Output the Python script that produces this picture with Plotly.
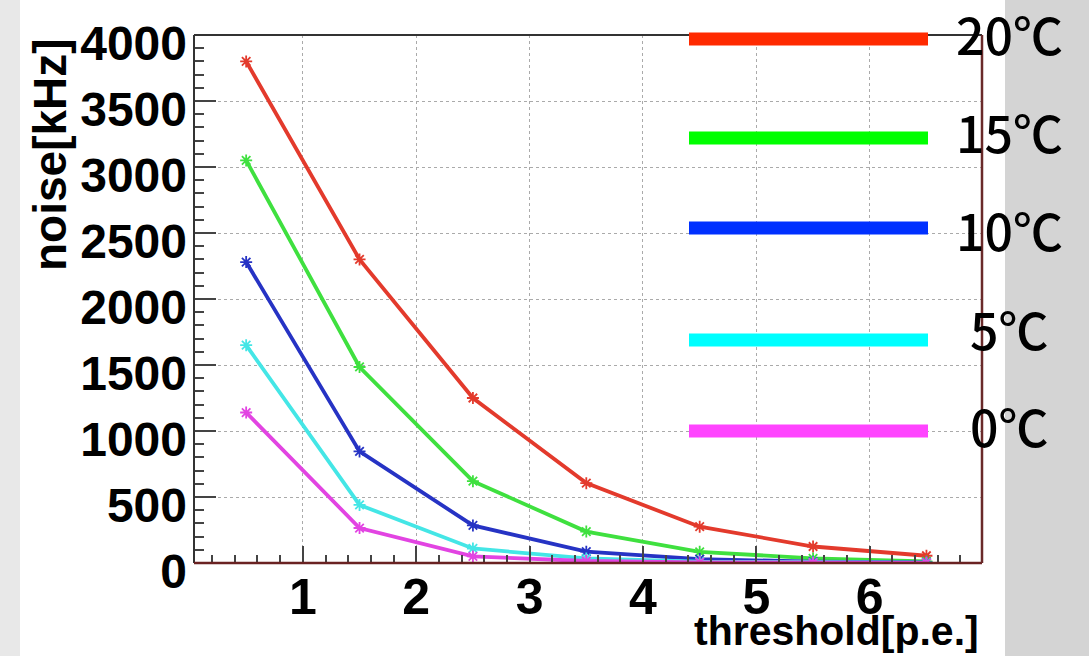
import plotly.graph_objects as go

# ---- data ----
thresholds = [0.5, 1.5, 2.5, 3.5, 4.5, 5.5, 6.5]
noise_20C = [3800, 2300, 1250, 605, 275, 125, 55]
noise_15C = [3050, 1485, 620, 238, 85, 35, 12]
noise_10C = [2280, 845, 285, 86, 30, 10, 4]
noise_5C = [1650, 440, 110, 35, 10, 4, 2]
noise_0C = [1140, 265, 50, 15, 5, 2, 1]
series_labels = ["20℃", "15℃", "10℃", "5℃", "0℃"]
x_tick_vals = [1, 2, 3, 4, 5, 6]
y_tick_vals = [0, 500, 1000, 1500, 2000, 2500, 3000, 3500, 4000]

# ---- styling ----
W, H = 1089, 656
L, R, T, B = 194, 982, 35, 563
line_colors = ["#e33a2c", "#3fe03f", "#2633c4", "#44e6e6", "#e244e2"]
legend_colors = ["#ff2a00", "#00ff00", "#0030ff", "#00ffff", "#ff44ff"]
legend_line_y = [39, 138, 228, 340, 431]
legend_text_y = [33, 131, 229, 328, 425]


def px(xp):
    return (xp - L) / (R - L)


def py(yp):
    return (B - yp) / (B - T)


fig = go.Figure()
all_series = [noise_20C, noise_15C, noise_10C, noise_5C, noise_0C]
for vals, col, name in zip(all_series, line_colors, series_labels):
    fig.add_trace(go.Scatter(
        x=thresholds, y=vals, mode="lines+markers", name=name,
        line=dict(color=col, width=3.8),
        marker=dict(symbol="asterisk-open", size=10, color=col,
                    line=dict(color=col, width=1.8)),
        showlegend=False,
    ))

shapes = []
# background strips
shapes.append(dict(type="rect", xref="paper", yref="paper", layer="below",
                   x0=px(0), x1=px(20), y0=py(H), y1=py(0),
                   fillcolor="#e8e8e8", line=dict(width=0)))
shapes.append(dict(type="rect", xref="paper", yref="paper", layer="below",
                   x0=px(1005), x1=px(W), y0=py(H), y1=py(0),
                   fillcolor="#d4d4d4", line=dict(width=0)))
# frame
shapes.append(dict(type="line", xref="paper", yref="paper", x0=0, x1=1, y0=1, y1=1,
                   line=dict(color="#333333", width=2)))
shapes.append(dict(type="line", xref="paper", yref="paper", x0=0, x1=0, y0=0, y1=1,
                   line=dict(color="#333333", width=2)))
shapes.append(dict(type="line", xref="paper", yref="paper", x0=0, x1=1, y0=0, y1=0,
                   line=dict(color="#6a2222", width=2.5)))
shapes.append(dict(type="line", xref="paper", yref="paper", x0=1, x1=1, y0=0, y1=1,
                   line=dict(color="#6a2a2a", width=2.5)))
# legend lines
for c, ly in zip(legend_colors, legend_line_y):
    shapes.append(dict(type="line", xref="paper", yref="paper",
                       x0=px(689), x1=px(928), y0=py(ly), y1=py(ly),
                       line=dict(color=c, width=13)))

annotations = []
for lab, ty in zip(series_labels, legend_text_y):
    annotations.append(dict(xref="paper", yref="paper", x=px(1009), y=py(ty),
                            text=lab, showarrow=False, xanchor="center", yanchor="middle",
                            font=dict(family="Noto Sans CJK JP", size=50, color="#000000",
                                      weight=500)))
annotations.append(dict(xref="paper", yref="paper", x=px(50), y=py(155),
                        text="noise[kHz]", showarrow=False, textangle=-90,
                        xanchor="center", yanchor="middle",
                        font=dict(family="Liberation Sans", size=46, color="#000000", weight="bold")))
annotations.append(dict(xref="paper", yref="paper", x=px(981), y=py(631),
                        text="threshold[p.e.]", showarrow=False,
                        xanchor="right", yanchor="middle",
                        font=dict(family="Liberation Sans", size=41, color="#000000", weight="bold")))

fig.update_layout(
    width=W, height=H,
    margin=dict(l=L, r=W - R, t=T, b=H - B, pad=0),
    paper_bgcolor="#ffffff", plot_bgcolor="#ffffff",
    shapes=shapes, annotations=annotations,
    xaxis=dict(range=[0.04, 6.99], tickvals=x_tick_vals, ticktext=[str(v) for v in x_tick_vals],
               automargin=False,
               ticks="inside", ticklen=17, tickwidth=1.5, tickcolor="#444444",
               showgrid=True, gridcolor="#aaaaaa", griddash="dot", gridwidth=1,
               zeroline=False, showline=False,
               tickfont=dict(family="Liberation Sans", size=50, color="#000000", weight="bold"),
               ticklabelstandoff=0,
               minor=dict(dtick=0.2, tick0=0, ticks="inside", ticklen=8, tickcolor="#444444",
                          tickwidth=1.5, showgrid=False)),
    yaxis=dict(range=[0, 4000], tickvals=y_tick_vals, ticktext=[str(v) for v in y_tick_vals],
               automargin=False,
               ticks="inside", ticklen=22, tickwidth=1.5, tickcolor="#444444",
               showgrid=True, gridcolor="#aaaaaa", griddash="dot", gridwidth=1,
               zeroline=False, showline=False,
               tickfont=dict(family="Liberation Sans", size=48, color="#000000", weight="bold"),
               ticklabelstandoff=6, ticklabelshift=8,
               minor=dict(dtick=100, tick0=0, ticks="inside", ticklen=10, tickcolor="#444444",
                          tickwidth=1.5, showgrid=False)),
)

fig.write_html("out.html", config={"displayModeBar": False},
               post_script="document.body.style.margin='0';document.body.style.overflow='hidden';")
